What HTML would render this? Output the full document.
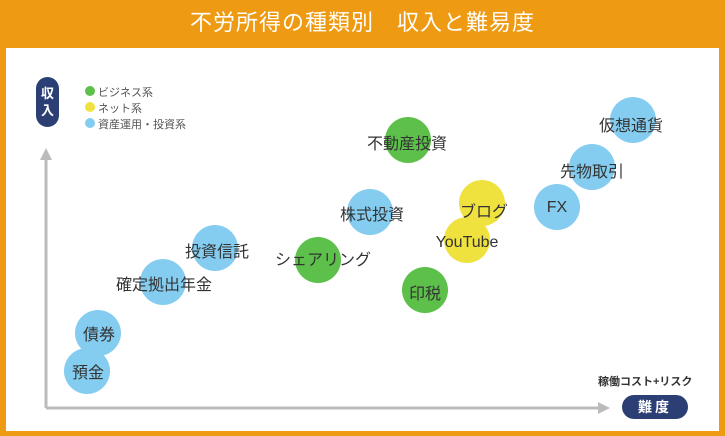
<!DOCTYPE html>
<html><head><meta charset="utf-8"><style>
body{margin:0;width:725px;height:436px;background:#ee9a12;position:relative;overflow:hidden;font-family:"Liberation Sans","Noto Sans CJK JP",sans-serif;}
.title{position:absolute;left:0;top:0;width:725px;height:47px;line-height:46px;text-align:center;color:#fff;font-size:22px;letter-spacing:1px;}
.panel{position:absolute;left:6px;top:48px;width:713px;height:383px;background:#fff;}
.c{position:absolute;width:46px;height:46px;border-radius:50%;}
.b{background:#84cdf0}.g{background:#5cc04a}.y{background:#f0e23e}
.t{position:absolute;font-size:16px;color:#333;white-space:nowrap;transform:translate(-50%,-50%);}
.lg{position:absolute;font-size:11px;color:#555;left:98px}
.dot{position:absolute;left:-13px;top:2px;width:10px;height:10px;border-radius:50%}
</style></head><body>
<div class="title">不労所得の種類別　収入と難易度</div>
<div class="panel"></div>
<svg style="position:absolute;left:0;top:0" width="725" height="436">
<line x1="46" y1="408" x2="46" y2="158" stroke="#bbb" stroke-width="3"/>
<polygon points="46,148 40,160 52,160" fill="#bbb"/>
<line x1="46" y1="408" x2="598" y2="408" stroke="#bbb" stroke-width="3"/>
<polygon points="610,408 598,402 598,414" fill="#bbb"/>
</svg>
<div style="position:absolute;left:36px;top:77px;width:23px;height:50px;border-radius:12px;background:#2c3f74;color:#fff;font-size:13px;font-weight:bold;text-align:center;line-height:17px;padding-top:8px;box-sizing:border-box">収<br>入</div>
<div style="position:absolute;left:622px;top:395px;width:66px;height:24px;border-radius:12px;background:#2c3f74;color:#fff;font-size:14px;font-weight:bold;text-align:center;line-height:24px;letter-spacing:3px">難度</div>
<div style="position:absolute;left:598px;top:373px;font-size:11px;color:#333;font-weight:bold">稼働コスト+リスク</div>
<div class="lg" style="top:84px"><span class="dot g"></span>ビジネス系</div>
<div class="lg" style="top:100px"><span class="dot y"></span>ネット系</div>
<div class="lg" style="top:116px"><span class="dot b"></span>資産運用・投資系</div>

<div class="c b" style="left:64px;top:348px"></div>
<div class="c b" style="left:75px;top:310px"></div>
<div class="c b" style="left:140px;top:259px"></div>
<div class="c b" style="left:192px;top:225px"></div>
<div class="c g" style="left:295px;top:237px"></div>
<div class="c b" style="left:347px;top:189px"></div>
<div class="c g" style="left:385px;top:117px"></div>
<div class="c y" style="left:459px;top:180px"></div>
<div class="c y" style="left:444px;top:217px"></div>
<div class="c g" style="left:402px;top:267px"></div>
<div class="c b" style="left:534px;top:184px"></div>
<div class="c b" style="left:569px;top:144px"></div>
<div class="c b" style="left:610px;top:97px"></div>

<div class="t" style="left:88px;top:371px">預金</div>
<div class="t" style="left:99px;top:333px">債券</div>
<div class="t" style="left:164px;top:283px">確定拠出年金</div>
<div class="t" style="left:217px;top:250px">投資信託</div>
<div class="t" style="left:323px;top:258px">シェアリング</div>
<div class="t" style="left:372px;top:213px">株式投資</div>
<div class="t" style="left:407px;top:142px">不動産投資</div>
<div class="t" style="left:484px;top:210px">ブログ</div>
<div class="t" style="left:467px;top:243px">YouTube</div>
<div class="t" style="left:425px;top:292px">印税</div>
<div class="t" style="left:557px;top:208px">FX</div>
<div class="t" style="left:592px;top:170px">先物取引</div>
<div class="t" style="left:631px;top:124px">仮想通貨</div>
</body></html>
